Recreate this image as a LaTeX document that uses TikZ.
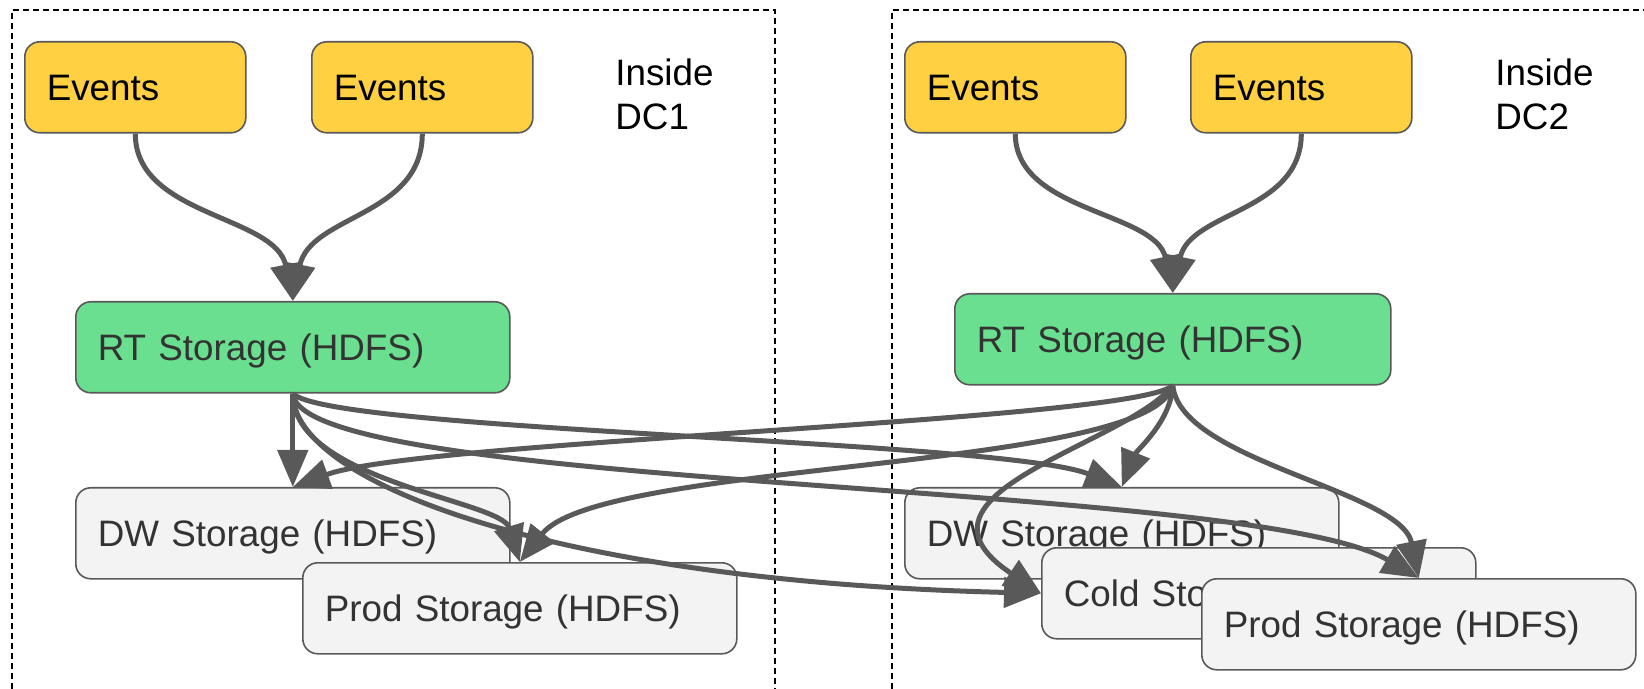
\documentclass[tikz,border=0pt]{standalone}
\usepackage{fontspec}
\setmainfont{Liberation Sans}
\usetikzlibrary{arrows.meta}
\definecolor{edgegray}{HTML}{595959}
\definecolor{eventfill}{HTML}{FFD042}
\definecolor{rtfill}{HTML}{6ADF8F}
\definecolor{storefill}{HTML}{F3F3F3}
\definecolor{storetext}{HTML}{333333}
\begin{document}
\begin{tikzpicture}[x=0.5pt,y=-0.5pt,
  box/.style={draw=edgegray, line width=0.8pt, rounded corners=7.5pt,
    anchor=north west, inner xsep=11pt, inner ysep=0pt, minimum height=45.5pt,
    align=left, text height=13.2pt, text depth=0pt,
    font=\fontsize{18.4pt}{22pt}\selectfont},
  event/.style={box, fill=eventfill, text=black, text width=88.5pt},
  rt/.style={box, fill=rtfill, text=storetext, text width=195pt},
  store/.style={box, fill=storefill, text=storetext, text width=195pt},
  frame/.style={draw=black, line width=0.7pt, dash pattern=on 3pt off 2pt},
  flow/.style={draw=edgegray, line width=2.5pt,
    -{Triangle[length=18.5pt,width=15pt]}},
  note/.style={anchor=north west, inner sep=0pt, align=left,
    font=\fontsize{18.4pt}{22pt}\selectfont}
]
\useasboundingbox (0,0) rectangle (1644,689);

% data-centre frames
\draw[frame] (12,689) -- (12,10) -- (775,10) -- (775,689);
\draw[frame] (892,689) -- (892,10) -- (1644,10);

\node[note] (dc1label) at (615,58) {Inside\\DC1};
\node[note] (dc2label) at (1495,58) {Inside\\DC2};

% DC1
\node[event] (e1) at (24,41) {Events};
\node[event] (e2) at (311,41) {Events};
\node[rt] (rt1) at (75,301) {RT Storage (HDFS)};
\node[store] (dw1) at (75,487) {DW Storage (HDFS)};
\node[store] (prod1) at (302,562) {Prod Storage (HDFS)};

% DC2
\node[event] (e3) at (904,41) {Events};
\node[event] (e4) at (1190,41) {Events};
\node[rt, text width=196pt] (rt2) at (954,293) {RT Storage (HDFS)};
\node[store] (dw2) at (904,487) {DW Storage (HDFS)};
\node[store] (cold) at (1041,547) {Cold Storage};
\node[store] (prod2) at (1201,578) {Prod Storage (HDFS)};

% event ingestion
\draw[flow] (e1.south) .. controls +(0,83) and +(-17,-86) .. (rt1.north);
\draw[flow] (e2.south) .. controls +(0,83) and +(17,-86) .. (rt1.north);
\draw[flow] (e3.south) .. controls +(0,79) and +(-17,-82) .. (rt2.north);
\draw[flow] (e4.south) .. controls +(0,79) and +(17,-82) .. (rt2.north);

% replication out of RT storage in DC1
\draw[flow] (rt1.south) -- (dw1.north);
\draw[flow] (rt1.south) .. controls +(0,88) and +(-19,-62) .. (prod1.north);
\draw[flow] (rt1.south) .. controls +(0,88) and +(-491,-12) .. (cold.west);
\draw[flow] (rt1.south) .. controls +(38,38) and +(-120,-47) .. (dw2.north);
\draw[flow] (rt1.south) .. controls +(8,98) and +(-168,-98) .. (prod2.north);

% replication out of RT storage in DC2
\draw[flow] (rt2.south) .. controls +(-42,36) and +(128,-47) .. (dw1.north);
\draw[flow] (rt2.south) .. controls +(-22,86) and +(81,-102) .. (prod1.north);
\draw[flow] (rt2.south) .. controls +(-2,36) and +(15,-37) .. (dw2.north);
\draw[flow] (rt2.south) .. controls +(-48,60) and +(-150,-100) .. (cold.west);
\draw[flow] (rt2.south) .. controls +(8,76) and +(-18,-88) .. (prod2.north);
\end{tikzpicture}
\end{document}
